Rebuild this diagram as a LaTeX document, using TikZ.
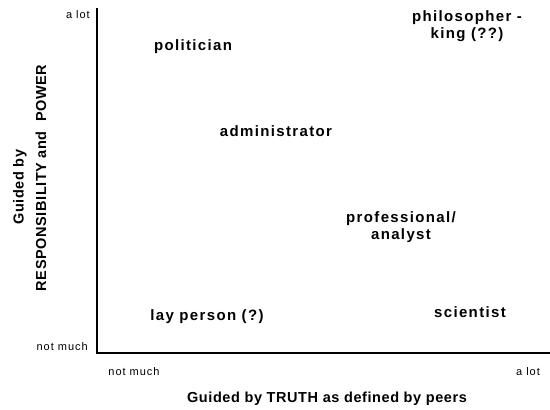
\documentclass[tikz,border=0pt]{standalone}
\usepackage{fontspec}
\setmainfont{Liberation Sans}
\newfontfamily\lblfont[LetterSpace=9]{Liberation Sans}
\newfontfamily\capfont[LetterSpace=4]{Liberation Sans}
\begin{document}
\begin{tikzpicture}[x=1pt,y=-1pt,
  lbl/.style={font=\lblfont\fontsize{15}{16.5}\selectfont\bfseries, align=center, inner sep=0pt},
  axistitle/.style={font=\capfont\fontsize{14.5}{16}\selectfont\bfseries, align=center, inner sep=0pt},
  tick/.style={font=\lblfont\fontsize{11}{12}\selectfont, inner sep=0pt},
  axis/.style={line width=1.6pt}]
\useasboundingbox (0,0) rectangle (550,410);
\coordinate (top) at (97,8);
\coordinate (org) at (97,353);
\coordinate (right) at (550,353);
\draw[axis] (top) -- (org) -- (right);
\node[tick, anchor=east] (ylot) at (90,15) {a lot};
\node[tick, anchor=east] (ynot) at (88,347) {not much};
\node[tick] (xnot) at (134,372) {not much};
\node[tick] (xlot) at (528,372) {a lot};
\node[lbl] (pol) at (193,47) {politician};
\node[lbl] (phil) at (467,26) {philosopher -\\king (??)};
\node[lbl] (adm) at (276,131) {administrator};
\node[lbl] (prof) at (401,227) {professional/\\analyst};
\node[lbl] (lay) at (207,317) {lay person (?)};
\node[lbl] (sci) at (470,312) {scientist};
\node[axistitle] (xlab) at (327,399) {Guided by TRUTH as defined by peers};
\node[axistitle, rotate=90] (ylab1) at (20,187) {Guided by};
\node[axistitle, rotate=90] (ylab2) at (41,178) {RESPONSIBILITY and\ \ POWER};
\end{tikzpicture}
\end{document}
